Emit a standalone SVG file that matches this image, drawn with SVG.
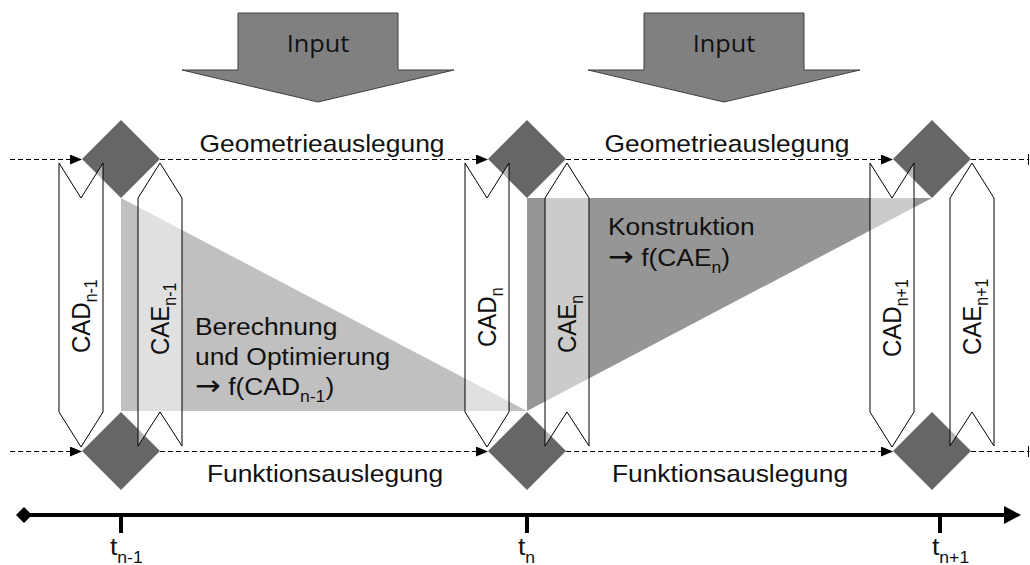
<svg xmlns="http://www.w3.org/2000/svg" width="1030" height="565" viewBox="0 0 1030 565">
  <style>
    .lbl { font-family: "Liberation Sans", Arial, sans-serif; font-size: 24px; fill: #111; }
    .sub { font-size: 16px; }
    .arr { font-family: "DejaVu Sans", sans-serif; font-size: 28px; }
    .inp { font-family: "Open Sans", "DejaVu Sans", sans-serif; font-size: 23px; fill: #111; }
    .diamond { fill: #666666; }
    .band { fill: #ffffff; fill-opacity: 0.5; stroke: #000; stroke-width: 1; }
    .dash { fill: none; stroke: #000; stroke-width: 1; stroke-dasharray: 5 3; shape-rendering: crispEdges; }
    .arrowIn { fill: #808080; stroke: #404040; stroke-width: 1; }
  </style>
  <defs>
    <marker id="tip" markerUnits="userSpaceOnUse" markerWidth="14" markerHeight="12" refX="12" refY="5" orient="auto">
      <path d="M0,0 L12,5 L0,10 Z" fill="#000"/>
    </marker>
  </defs>
  <rect width="1030" height="565" fill="#fff"/>

  <!-- Input arrows -->
  <g id="input-1">
    <polygon class="arrowIn" points="238,13 398,13 398,70 454,70 318,102 182,70 238,70"/>
    <text class="inp" text-anchor="middle" transform="translate(318,52) scale(1.1,1)">Input</text>
  </g>
  <g id="input-2">
    <polygon class="arrowIn" points="644,13 804,13 804,70 860,70 724,102 588,70 644,70"/>
    <text class="inp" text-anchor="middle" transform="translate(724,52) scale(1.1,1)">Input</text>
  </g>

  <!-- shaded work areas -->
  <g id="berechnung">
    <polygon points="121,198 121,411 527,411" fill="#c0c0c0"/>
  </g>
  <g id="konstruktion">
    <polygon points="527,198 932,198 527,411" fill="#969696"/>
  </g>

  <!-- connectors -->
  <g id="connectors">
    <path class="dash" d="M10,159.5 H82" marker-end="url(#tip)"/>
    <path class="dash" d="M160,159.5 H488" marker-end="url(#tip)"/>
    <path class="dash" d="M566,159.5 H893" marker-end="url(#tip)"/>
    <path class="dash" d="M971,159.5 H1028"/>
    <line x1="1028.5" y1="154" x2="1028.5" y2="165" stroke="#000" stroke-width="1"/>
    <path class="dash" d="M10,451.5 H82" marker-end="url(#tip)"/>
    <path class="dash" d="M160,451.5 H488" marker-end="url(#tip)"/>
    <path class="dash" d="M566,451.5 H893" marker-end="url(#tip)"/>
    <path class="dash" d="M971,451.5 H1028"/>
    <line x1="1028.5" y1="446" x2="1028.5" y2="457" stroke="#000" stroke-width="1"/>
  </g>

  <!-- milestones -->
  <g id="geo-n-1"><polygon class="diamond" points="121,120 160,159 121,198 82,159"/></g>
  <g id="geo-n"><polygon class="diamond" points="527,120 566,159 527,198 488,159"/></g>
  <g id="geo-n+1"><polygon class="diamond" points="932,120 971,159 932,198 893,159"/></g>
  <g id="fkt-n-1"><polygon class="diamond" points="121,412 160,451 121,490 82,451"/></g>
  <g id="fkt-n"><polygon class="diamond" points="527,412 566,451 527,490 488,451"/></g>
  <g id="fkt-n+1"><polygon class="diamond" points="932,412 971,451 932,490 893,451"/></g>

  <!-- CAD / CAE bands -->
  <g id="cad-n-1">
    <polygon class="band" points="59,163 81,198 103,163 103,412 81,447 59,412"/>
    <text class="lbl" transform="translate(90,353) rotate(-90) scale(1,1.1)">CAD<tspan class="sub" dy="6">n-1</tspan></text>
  </g>
  <g id="cae-n-1">
    <polygon class="band" points="138,198 160,163 182,198 182,446 160,412 138,446"/>
    <text class="lbl" transform="translate(169,355) rotate(-90) scale(1,1.1)">CAE<tspan class="sub" dy="6">n-1</tspan></text>
  </g>
  <g id="cad-n">
    <polygon class="band" points="465,163 487,198 509,163 509,412 487,447 465,412"/>
    <text class="lbl" transform="translate(496,347) rotate(-90) scale(1,1.1)">CAD<tspan class="sub" dy="6">n</tspan></text>
  </g>
  <g id="cae-n">
    <polygon class="band" points="545,198 567,163 589,198 589,446 567,412 545,446"/>
    <text class="lbl" transform="translate(576,353) rotate(-90) scale(1,1.1)">CAE<tspan class="sub" dy="6">n</tspan></text>
  </g>
  <g id="cad-n+1">
    <polygon class="band" points="870,163 892,198 914,163 914,412 892,447 870,412"/>
    <text class="lbl" transform="translate(901,357) rotate(-90) scale(1,1.1)">CAD<tspan class="sub" dy="6">n+1</tspan></text>
  </g>
  <g id="cae-n+1">
    <polygon class="band" points="950,198 972,163 994,198 994,446 972,412 950,446"/>
    <text class="lbl" transform="translate(981,355) rotate(-90) scale(1,1.1)">CAE<tspan class="sub" dy="6">n+1</tspan></text>
  </g>

  <!-- phase labels -->
  <g id="labels">
    <text class="lbl" text-anchor="middle" transform="translate(322,152) scale(1.1,1)">Geometrieauslegung</text>
    <text class="lbl" text-anchor="middle" transform="translate(727,152) scale(1.1,1)">Geometrieauslegung</text>
    <text class="lbl" text-anchor="middle" transform="translate(325,482) scale(1.1,1)">Funktionsauslegung</text>
    <text class="lbl" text-anchor="middle" transform="translate(730,482) scale(1.1,1)">Funktionsauslegung</text>
    <text class="lbl" transform="translate(195,335) scale(1.1,1)">Berechnung</text>
    <text class="lbl" transform="translate(195,365) scale(1.1,1)">und Optimierung</text>
    <text class="lbl" transform="translate(195,395) scale(1.1,1)"><tspan class="arr">→</tspan> f(CAD<tspan class="sub" dy="7">n-1</tspan><tspan dy="-7">)</tspan></text>
    <text class="lbl" transform="translate(608,235) scale(1.1,1)">Konstruktion</text>
    <text class="lbl" transform="translate(608,266) scale(1.1,1)"><tspan class="arr">→</tspan> f(CAE<tspan class="sub" dy="7">n</tspan><tspan dy="-7">)</tspan></text>
  </g>

  <!-- time axis -->
  <g id="timeline">
    <line x1="24" y1="515" x2="1006" y2="515" stroke="#000" stroke-width="4"/>
    <polygon points="24,507 32,515 24,523 16,515" fill="#000"/>
    <polygon points="1004,506 1021,515 1004,524" fill="#000"/>
    <line x1="121" y1="515" x2="121" y2="533" stroke="#000" stroke-width="4"/>
    <line x1="527" y1="515" x2="527" y2="533" stroke="#000" stroke-width="4"/>
    <line x1="940" y1="515" x2="940" y2="533" stroke="#000" stroke-width="4"/>
    <text class="lbl" transform="translate(110,555) scale(1.1,1)">t<tspan class="sub" dy="8">n-1</tspan></text>
    <text class="lbl" transform="translate(518,555) scale(1.1,1)">t<tspan class="sub" dy="8">n</tspan></text>
    <text class="lbl" transform="translate(932,555) scale(1.1,1)">t<tspan class="sub" dy="8">n+1</tspan></text>
  </g>
</svg>
